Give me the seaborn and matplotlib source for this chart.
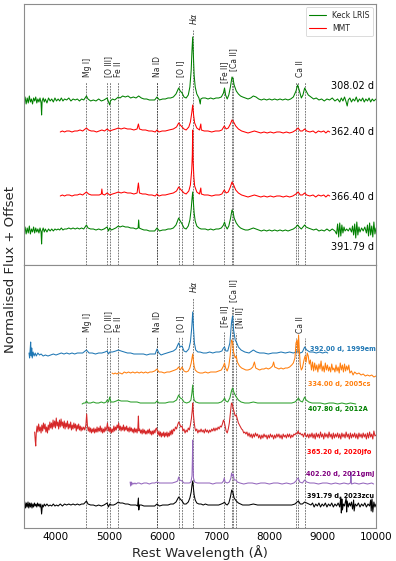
import matplotlib
matplotlib.use("Agg")
import matplotlib.pyplot as plt
import pandas as pd
import seaborn as sns
from matplotlib.lines import Line2D

# ---------------- data (wavelength [A], normalised flux + offset) ----------------
keck_308 = [(3400,163),(3420,168),(3440,161),(3460,167),(3480,162),(3500,169),(3520,163),(3540,166),(3560,161),(3580,167),
    (3600,164),(3620,168),(3640,162),(3660,166),(3680,163),(3700,167),(3720,162),(3730,150),(3740,164),(3760,167),(3780,163),
    (3800,166),(3830,162),(3860,167),(3890,164),(3920,166),(3950,163),(3980,167),(4010,164),(4040,166),(4070,164),(4100,167),
    (4130,164),(4160,166),(4200,165),(4240,167),(4280,164),(4320,166),(4360,165),(4400,166),(4440,164),(4480,166),(4520,165),
    (4571,169),(4600,166),(4650,164),(4700,165),(4750,164),(4800,166),(4850,164),(4900,165),(4959,167),(4985,163),(5007,160),
    (5020,164),(5060,166),(5100,165),(5169,168),(5200,167),(5250,169),(5300,168),(5350,169),(5400,167),(5450,168),(5500,167),
    (5550,169),(5600,167),(5650,166),(5700,166),(5750,165),(5800,165),(5850,165),(5894,168),(5940,165),(6000,166),(6050,166),
    (6100,167),(6150,167),(6200,168),(6250,171),(6300,177),(6330,174),(6364,172),(6400,168),(6440,167),(6480,170),(6510,178),
    (6535,195),(6550,215),(6563,228),(6575,210),(6590,190),(6610,178),(6640,171),(6680,167),(6705,161),(6715,166),(6750,167),
    (6800,167),(6850,166),(6900,167),(6950,166),(7000,167),(7050,167),(7100,168),(7140,172),(7160,177),(7180,170),(7210,166),
    (7240,170),(7270,178),(7300,188),(7320,186),(7340,180),(7380,174),(7420,171),(7460,169),(7500,168),(7550,167),(7600,166),
    (7650,167),(7700,169),(7750,168),(7800,166),(7850,165),(7900,166),(7950,165),(8000,166),(8050,165),(8100,166),(8150,165),
    (8200,166),(8250,165),(8300,166),(8350,165),(8400,166),(8450,168),(8500,174),(8530,180),(8560,175),(8600,167),(8630,170),
    (8662,177),(8690,174),(8730,170),(8780,168),(8830,166),(8880,167),(8930,165),(8980,166),(9030,164),(9080,166),(9130,165),
    (9180,167),(9230,164),(9280,166),(9320,163),(9350,167),(9380,164),(9410,168),(9440,163),(9460,159),(9480,165),(9510,167),
    (9540,163),(9570,166),(9600,164),(9630,168),(9660,163),(9690,166),(9720,164),(9750,167),(9780,163),(9810,166),(9840,164),
    (9870,167),(9900,163),(9930,166),(9960,164),(10000,166)]

mmt_362 = [(4080,133),(4120,134),(4160,133),(4200,134),(4250,134),(4300,133),(4350,134),(4400,134),(4450,135),(4500,134),
    (4571,137),(4610,135),(4660,134),(4710,134),(4760,133),(4810,134),(4860,135),(4910,134),(4959,136),(5007,134),(5060,135),
    (5120,136),(5169,137),(5220,136),(5280,137),(5340,136),(5400,136),(5460,135),(5520,136),(5545,141),(5565,136),(5620,135),
    (5680,135),(5740,134),(5800,134),(5860,133),(5894,135),(5930,133),(5990,134),(6050,134),(6120,135),(6200,136),(6260,138),
    (6300,142),(6330,140),(6364,138),(6400,136),(6440,135),(6490,138),(6520,143),(6545,152),(6563,160),(6580,150),(6600,142),
    (6640,137),(6690,135),(6715,141),(6725,135),(6780,134),(6850,134),(6920,133),(6990,134),(7060,134),(7110,135),(7155,139),
    (7190,136),(7230,137),(7270,141),(7300,145),(7330,143),(7370,139),(7420,136),(7480,134),(7540,133),(7600,132),(7660,133),
    (7720,134),(7780,133),(7840,132),(7900,133),(7960,132),(8020,133),(8080,132),(8140,133),(8200,133),(8260,132),(8320,133),
    (8380,132),(8440,133),(8500,135),(8540,137),(8580,134),(8620,134),(8662,136),(8700,134),(8760,133),(8820,134),(8870,132),
    (8920,134),(8970,133),(9020,134),(9060,132),(9100,134),(9133,133)]

mmt_366 = [(4080,69),(4120,70),(4160,69),(4200,70),(4250,70),(4300,69),(4350,70),(4400,70),(4450,71),(4500,70),(4571,73),
    (4610,71),(4660,70),(4710,70),(4760,70),(4810,70),(4850,71),(4860,76),(4870,71),(4910,70),(4959,72),(5007,70),(5060,71),
    (5120,72),(5169,73),(5220,72),(5280,73),(5340,72),(5400,72),(5460,71),(5520,72),(5545,82),(5565,72),(5620,71),(5680,71),
    (5740,70),(5800,70),(5860,69),(5894,71),(5930,69),(5990,70),(6050,70),(6120,71),(6200,72),(6260,74),(6300,78),(6330,76),
    (6364,74),(6400,72),(6440,71),(6490,74),(6520,80),(6545,95),(6556,110),(6563,135),(6570,105),(6585,88),(6600,79),
    (6640,73),(6690,71),(6715,77),(6725,71),(6780,70),(6850,70),(6920,69),(6990,70),(7060,70),(7110,71),(7155,75),(7190,72),
    (7230,73),(7270,78),(7300,83),(7330,80),(7370,75),(7420,72),(7480,70),(7540,69),(7600,68),(7660,69),(7720,70),(7780,69),
    (7840,68),(7900,69),(7960,68),(8020,69),(8080,68),(8140,69),(8200,69),(8260,68),(8320,69),(8380,68),(8440,69),(8500,71),
    (8540,73),(8580,70),(8620,70),(8662,72),(8700,70),(8760,69),(8820,70),(8870,68),(8920,70),(8970,69),(9020,70),(9060,68),
    (9100,70),(9133,69)]

keck_391 = [(3400,33),(3420,38),(3440,31),(3460,37),(3480,32),(3500,39),(3520,31),(3540,36),(3560,33),(3580,38),(3600,32),
    (3620,37),(3640,33),(3660,36),(3680,32),(3700,37),(3720,33),(3730,21),(3740,34),(3760,37),(3780,33),(3800,36),(3830,33),
    (3860,36),(3890,34),(3920,36),(3950,34),(3980,36),(4010,35),(4040,36),(4070,35),(4100,37),(4130,35),(4160,36),(4200,36),
    (4240,37),(4280,36),(4320,37),(4360,36),(4400,37),(4440,36),(4480,37),(4520,36),(4571,40),(4600,37),(4650,36),(4700,36),
    (4750,35),(4800,36),(4850,35),(4900,36),(4959,38),(4985,34),(5007,37),(5040,35),(5080,36),(5120,37),(5169,39),(5200,38),
    (5250,39),(5300,38),(5350,38),(5400,37),(5450,37),(5500,36),(5540,37),(5550,45),(5560,37),(5600,36),(5650,35),(5700,35),
    (5750,34),(5800,34),(5850,34),(5894,37),(5940,34),(6000,35),(6050,35),(6100,36),(6150,36),(6200,37),(6250,40),(6300,47),
    (6330,44),(6364,41),(6400,37),(6440,36),(6480,39),(6510,45),(6535,56),(6550,66),(6563,73),(6575,63),(6590,52),(6610,44),
    (6640,39),(6680,37),(6720,36),(6760,36),(6800,36),(6850,35),(6900,36),(6950,35),(7000,36),(7050,36),(7100,37),(7140,40),
    (7160,43),(7180,39),(7210,36),(7240,39),(7270,46),(7300,55),(7320,53),(7340,47),(7380,42),(7420,39),(7460,37),(7500,36),
    (7550,35),(7600,35),(7650,36),(7700,37),(7750,36),(7800,35),(7850,34),(7900,35),(7950,34),(8000,35),(8050,34),(8100,35),
    (8150,34),(8200,35),(8250,34),(8300,35),(8350,34),(8400,35),(8450,36),(8500,38),(8530,40),(8560,38),(8600,36),(8630,38),
    (8662,40),(8690,38),(8730,37),(8780,36),(8830,35),(8880,36),(8930,34),(8980,35),(9030,34),(9080,36),(9130,34),(9180,36),
    (9230,34),(9260,31),(9280,41),(9300,28),(9320,42),(9340,29),(9360,40),(9380,32),(9400,38),(9420,34),(9450,36),(9480,34),
    (9510,37),(9540,33),(9560,39),(9580,30),(9600,41),(9620,27),(9640,43),(9660,30),(9680,38),(9700,33),(9730,37),(9760,34),
    (9790,38),(9820,32),(9840,40),(9860,29),(9880,42),(9900,30),(9920,39),(9940,28),(9960,43),(9980,31),(10000,37)]

sn1999em = [(3494,175),(3505,170),(3515,178),(3525,186),(3535,172),(3545,180),(3555,170),(3570,176),(3590,172),(3610,175),
    (3630,172),(3660,175),(3690,173),(3720,174),(3760,172),(3800,173),(3850,172),(3900,173),(3950,174),(4000,173),(4050,174),
    (4100,175),(4150,174),(4200,175),(4250,174),(4300,175),(4350,174),(4400,175),(4450,175),(4500,175),(4571,178),(4620,175),
    (4680,175),(4740,174),(4800,175),(4860,175),(4920,176),(4959,177),(4985,174),(5007,176),(5060,176),(5120,177),(5169,178),
    (5220,177),(5280,176),(5340,175),(5400,175),(5460,174),(5520,174),(5580,174),(5640,174),(5700,173),(5760,174),(5820,174),
    (5860,174),(5894,179),(5930,175),(5970,173),(6020,174),(6080,175),(6140,176),(6200,177),(6250,179),(6300,185),(6330,181),
    (6364,182),(6400,177),(6440,176),(6490,179),(6520,186),(6545,200),(6563,216),(6578,200),(6595,185),(6620,178),(6660,176),
    (6700,176),(6760,175),(6820,175),(6880,176),(6940,175),(7000,176),(7060,176),(7110,177),(7140,180),(7160,181),(7185,177),
    (7220,177),(7260,185),(7290,205),(7310,212),(7330,198),(7360,188),(7390,185),(7420,181),(7470,178),(7540,176),(7620,175),
    (7700,178),(7760,176),(7820,175),(7900,175),(7980,174),(8060,175),(8140,175),(8220,176),(8300,175),(8380,176),(8450,175),
    (8500,176),(8540,177),(8580,175),(8620,176),(8662,181),(8700,178),(8760,176),(8820,176),(8880,175),(8940,176),(9000,175),
    (9060,176),(9095,175)]

sn2005cs = [(5050,155),(5080,154),(5110,155),(5140,154),(5169,155),(5200,155),(5240,154),(5280,156),(5320,155),(5360,156),
    (5400,155),(5440,156),(5480,155),(5520,156),(5560,155),(5600,156),(5640,155),(5680,156),(5720,155),(5760,156),(5800,156),
    (5850,157),(5894,159),(5930,156),(5980,156),(6030,155),(6080,156),(6130,156),(6180,157),(6230,158),(6270,159),(6300,161),
    (6330,158),(6364,161),(6400,157),(6440,156),(6480,157),(6510,160),(6535,165),(6550,170),(6563,174),(6575,168),(6590,162),
    (6610,158),(6650,156),(6700,155),(6750,155),(6800,156),(6850,155),(6900,156),(6950,156),(7000,156),(7050,157),(7100,158),
    (7140,162),(7160,165),(7180,160),(7210,157),(7240,162),(7265,172),(7290,188),(7310,186),(7330,176),(7360,170),(7380,172),
    (7400,166),(7440,162),(7480,160),(7520,159),(7560,158),(7600,158),(7650,159),(7690,161),(7720,166),(7745,160),(7780,159),
    (7820,158),(7860,159),(7900,159),(7940,160),(7980,159),(8020,160),(8060,162),(8080,166),(8100,161),(8140,160),(8180,159),
    (8220,160),(8260,159),(8300,160),(8340,160),(8380,161),(8420,163),(8450,165),(8480,170),(8500,185),(8520,188),(8535,175),
    (8548,193),(8560,180),(8580,163),(8600,158),(8620,160),(8650,168),(8670,172),(8690,166),(8710,175),(8730,172),(8750,164),
    (8770,168),(8790,158),(8810,166),(8830,157),(8850,165),(8870,158),(8890,163),(8910,156),(8930,164),(8950,159),(8970,167),
    (8990,157),(9010,162),(9030,156),(9050,165),(9070,158),(9090,163),(9110,157),(9130,161),(9150,156),(9170,164),(9190,158),
    (9210,160),(9230,156),(9250,163),(9270,157),(9290,161),(9310,155),(9330,165),(9350,158),(9370,163),(9390,156),(9410,164),
    (9430,157),(9450,162),(9470,158),(9490,163),(9510,155),(9540,157),(9570,153),(9600,156),(9640,154),(9680,155),(9720,153),
    (9760,154),(9800,152),(9840,153),(9880,152),(9920,153),(9960,151),(10000,152)]

sn2012A = [(4490,124),(4520,125),(4550,125),(4571,127),(4600,125),(4650,125),(4700,126),(4750,125),(4800,125),(4850,126),
    (4900,125),(4940,126),(4959,128),(4985,126),(5007,131),(5030,126),(5080,126),(5130,127),(5169,128),(5220,127),(5280,127),
    (5340,127),(5400,126),(5460,126),(5520,126),(5580,125),(5640,125),(5700,125),(5760,125),(5820,125),(5860,125),(5894,127),
    (5930,125),(5990,125),(6050,125),(6120,126),(6200,126),(6260,128),(6300,133),(6330,130),(6364,129),(6400,126),(6450,125),
    (6500,126),(6530,128),(6548,135),(6563,143),(6575,133),(6590,128),(6620,126),(6680,125),(6740,125),(6800,125),(6860,125),
    (6920,125),(6980,125),(7040,125),(7100,126),(7140,128),(7160,130),(7185,127),(7220,126),(7260,130),(7290,137),(7310,140),
    (7340,135),(7380,131),(7420,128),(7470,126),(7540,125),(7620,125),(7700,126),(7780,125),(7860,125),(7940,125),(8020,125),
    (8100,125),(8180,125),(8260,125),(8340,125),(8420,125),(8480,126),(8520,128),(8545,130),(8580,127),(8620,126),(8662,131),
    (8690,128),(8740,126),(8800,125),(8880,125),(8960,125),(9040,124),(9120,125),(9200,125),(9280,124),(9360,125),(9440,124),
    (9520,125),(9620,124)]

sn2020jfo = [(3600,96),(3610,88),(3620,82),(3630,95),(3645,102),(3660,96),(3675,104),(3690,97),(3705,101),(3720,95),
    (3735,103),(3750,97),(3765,105),(3780,99),(3795,104),(3810,96),(3825,101),(3840,95),(3855,103),(3870,98),(3885,106),
    (3900,100),(3915,105),(3930,99),(3945,108),(3960,101),(3975,107),(3990,100),(4005,110),(4020,102),(4035,106),(4050,99),
    (4065,108),(4080,101),(4095,109),(4110,102),(4125,106),(4140,100),(4155,107),(4170,99),(4185,105),(4200,101),(4215,107),
    (4230,99),(4245,104),(4260,100),(4275,106),(4290,98),(4305,103),(4320,99),(4335,105),(4350,100),(4365,104),(4380,97),
    (4395,103),(4410,99),(4425,104),(4440,98),(4455,102),(4470,97),(4485,101),(4500,98),(4520,101),(4540,98),(4560,103),
    (4575,114),(4590,102),(4605,97),(4620,101),(4635,96),(4650,100),(4665,95),(4680,99),(4695,96),(4710,100),(4725,95),
    (4740,99),(4755,96),(4770,101),(4785,96),(4800,100),(4815,97),(4830,102),(4845,96),(4860,100),(4875,95),(4890,99),
    (4905,96),(4920,101),(4935,97),(4950,100),(4965,105),(4980,97),(4995,101),(5010,96),(5025,100),(5040,95),(5055,99),
    (5070,96),(5085,102),(5100,97),(5115,101),(5130,98),(5145,103),(5160,100),(5175,105),(5190,98),(5205,102),(5220,97),
    (5235,101),(5250,98),(5265,103),(5280,97),(5295,101),(5310,98),(5325,102),(5340,97),(5355,100),(5370,96),(5385,101),
    (5400,97),(5415,100),(5430,96),(5445,99),(5460,95),(5475,100),(5490,96),(5505,99),(5520,95),(5535,100),(5545,112),
    (5555,97),(5570,99),(5585,95),(5600,98),(5615,94),(5630,99),(5645,95),(5660,98),(5675,94),(5690,97),(5705,94),(5720,98),
    (5735,95),(5750,99),(5765,94),(5780,97),(5795,93),(5810,97),(5825,94),(5840,98),(5855,95),(5870,99),(5885,100),(5900,96),
    (5915,93),(5930,97),(5945,92),(5960,96),(5975,91),(5990,95),(6005,92),(6020,96),(6035,91),(6050,95),(6065,92),(6080,96),
    (6095,91),(6110,95),(6125,92),(6140,97),(6155,93),(6170,98),(6185,94),(6200,99),(6220,97),(6240,101),(6260,99),(6280,103),
    (6300,106),(6320,104),(6340,101),(6364,102),(6380,97),(6400,99),(6420,95),(6440,98),(6460,96),(6480,100),(6500,98),
    (6520,103),(6540,110),(6555,118),(6563,125),(6575,115),(6590,106),(6605,100),(6620,97),(6640,99),(6660,95),(6680,98),
    (6700,96),(6720,99),(6740,96),(6760,98),(6780,95),(6800,99),(6820,96),(6840,98),(6860,95),(6880,98),(6900,96),(6920,99),
    (6940,97),(6960,100),(6980,97),(7000,100),(7020,98),(7040,101),(7060,99),(7080,102),(7100,101),(7120,104),(7140,108),
    (7155,106),(7170,102),(7190,97),(7210,95),(7230,99),(7250,105),(7270,115),(7290,125),(7305,124),(7320,120),(7340,116),
    (7360,112),(7380,113),(7400,109),(7420,105),(7440,103),(7460,101),(7480,99),(7500,98),(7520,95),(7540,96),(7560,94),
    (7580,96),(7600,92),(7620,95),(7640,91),(7660,94),(7680,90),(7700,94),(7720,91),(7740,95),(7760,92),(7780,94),(7800,90),
    (7820,93),(7840,89),(7860,93),(7880,90),(7900,94),(7920,91),(7940,93),(7960,89),(7980,93),(8000,90),(8020,94),(8040,91),
    (8060,93),(8080,89),(8100,93),(8120,90),(8140,94),(8160,91),(8180,94),(8200,90),(8220,93),(8240,89),(8260,94),(8280,91),
    (8300,93),(8320,90),(8340,94),(8360,91),(8380,94),(8400,90),(8420,93),(8440,91),(8460,94),(8480,93),(8500,95),(8520,94),
    (8540,97),(8560,94),(8580,95),(8600,93),(8620,94),(8640,91),(8662,95),(8680,93),(8700,91),(8720,94),(8740,90),(8760,94),
    (8780,91),(8800,95),(8820,90),(8840,94),(8860,89),(8880,95),(8900,91),(8920,94),(8940,90),(8960,96),(8980,91),(9000,94),
    (9020,89),(9040,95),(9060,91),(9080,94),(9100,90),(9120,96),(9140,91),(9160,94),(9180,89),(9200,95),(9220,90),(9240,94),
    (9260,91),(9280,95),(9300,90),(9320,94),(9340,89),(9360,95),(9380,91),(9400,94),(9420,90),(9440,96),(9460,91),(9480,94),
    (9500,89),(9520,95),(9540,90),(9560,94),(9580,91),(9600,95),(9620,90),(9640,94),(9660,89),(9680,95),(9700,91),(9720,94),
    (9740,90),(9760,95),(9780,91),(9800,94),(9820,89),(9840,95),(9860,90),(9880,96),(9900,91),(9920,94),(9940,89),(9960,97),
    (9980,92),(10000,93)]

sn2021gmj = [(5390,46),(5400,42),(5410,46),(5420,43),(5440,45),(5460,44),(5480,45),(5500,44),(5530,45),(5560,45),(5600,44),
    (5650,45),(5700,45),(5750,44),(5800,45),(5850,45),(5894,46),(5940,45),(6000,45),(6060,45),(6120,45),(6180,45),(6240,46),
    (6280,47),(6300,51),(6320,48),(6364,47),(6400,45),(6450,45),(6500,45),(6530,46),(6550,52),(6558,70),(6563,88),(6568,68),
    (6578,50),(6600,46),(6650,45),(6700,45),(6760,45),(6820,45),(6880,45),(6940,44),(7000,45),(7060,45),(7110,45),(7140,47),
    (7155,50),(7170,46),(7210,45),(7250,46),(7280,50),(7292,55),(7305,52),(7324,54),(7340,48),(7378,48),(7400,46),(7450,45),
    (7520,44),(7600,45),(7680,45),(7760,44),(7840,45),(7920,45),(8000,44),(8080,45),(8160,45),(8240,44),(8320,45),(8400,44),
    (8460,45),(8500,47),(8520,49),(8542,50),(8570,46),(8620,45),(8662,48),(8700,46),(8760,45),(8840,45),(8920,44),(9000,45),
    (9080,45),(9160,44),(9240,45),(9320,44),(9400,45),(9480,44),(9520,45),(9530,56),(9540,44),(9600,45),(9680,44),(9760,45),
    (9840,44),(9920,45),(9955,44)]

sn2023zcu = [(3400,22),(3415,26),(3430,20),(3445,25),(3460,21),(3475,26),(3490,20),(3505,25),(3520,21),(3535,25),(3550,20),
    (3565,24),(3580,21),(3595,25),(3610,22),(3625,24),(3640,21),(3655,25),(3670,22),(3685,24),(3700,21),(3715,24),(3730,14),
    (3745,23),(3760,21),(3780,24),(3800,22),(3830,24),(3860,22),(3890,23),(3920,22),(3950,24),(3980,22),(4010,23),(4040,22),
    (4080,24),(4120,22),(4160,24),(4200,23),(4240,24),(4280,23),(4320,24),(4360,23),(4400,24),(4440,23),(4480,24),(4520,24),
    (4571,27),(4600,24),(4650,23),(4700,23),(4750,22),(4800,23),(4850,22),(4900,23),(4959,25),(4985,21),(5007,24),(5040,23),
    (5080,23),(5120,24),(5169,26),(5200,25),(5250,25),(5300,24),(5350,24),(5400,23),(5450,23),(5500,23),(5530,22),(5545,30),
    (5552,18),(5565,23),(5600,23),(5650,22),(5700,22),(5750,22),(5800,22),(5850,22),(5894,24),(5940,22),(6000,23),(6050,23),
    (6100,23),(6150,24),(6200,24),(6250,26),(6300,31),(6330,29),(6364,27),(6400,24),(6440,24),(6480,26),(6510,30),(6535,36),
    (6550,43),(6563,47),(6575,41),(6590,33),(6610,28),(6640,25),(6680,24),(6720,24),(6760,23),(6800,24),(6850,23),(6900,23),
    (6950,23),(7000,23),(7050,23),(7100,24),(7140,25),(7160,26),(7180,24),(7210,23),(7240,25),(7270,31),(7295,38),(7315,36),
    (7340,30),(7380,27),(7420,25),(7460,24),(7500,23),(7560,23),(7620,23),(7700,24),(7780,23),(7860,23),(7940,23),(8020,23),
    (8100,23),(8180,23),(8260,23),(8340,23),(8420,23),(8480,24),(8520,26),(8545,27),(8580,24),(8620,24),(8662,26),(8700,25),
    (8740,24),(8780,23),(8810,25),(8840,21),(8870,24),(8900,22),(8930,25),(8960,21),(8990,24),(9020,22),(9050,25),(9080,21),
    (9110,24),(9140,22),(9170,25),(9200,21),(9230,24),(9260,22),(9290,25),(9320,21),(9340,31),(9350,15),(9360,29),(9370,18),
    (9390,24),(9410,22),(9440,30),(9450,16),(9460,27),(9480,21),(9500,25),(9520,22),(9540,26),(9560,19),(9580,28),(9590,17),
    (9610,24),(9640,22),(9670,25),(9700,21),(9730,24),(9760,22),(9790,25),(9820,21),(9850,24),(9880,22),(9900,28),(9910,17),
    (9925,29),(9940,16),(9960,26),(9980,21),(10000,24)]

top_epochs = ["308.02 d", "362.40 d", "366.40 d", "391.79 d"]
bottom_labels = ["392.00 d, 1999em", "334.00 d, 2005cs", "407.80 d, 2012A",
                 "365.20 d, 2020jfo", "402.20 d, 2021gmj", "391.79 d, 2023zcu"]

line_names = ["Mg I]", "[O III]", "Fe II", "Na ID", "[O I]", r"$H\alpha$",
              "[Fe II]", "[Ca II]", "[Ni II]", "Ca II"]
line_waves = [[4571], [4959, 5007], [5169], [5890, 5896], [6300, 6364], [6563],
              [7155], [7291, 7324], [7378], [8498, 8542, 8662]]

xticks = [4000, 5000, 6000, 7000, 8000, 9000, 10000]

# ---------------- style ----------------
sns.set_theme(style="white")
plt.rcParams['font.family'] = ['DejaVu Sans']
plt.rcParams['axes.edgecolor'] = '0.55'
plt.rcParams['axes.linewidth'] = 0.8

fig, (ax1, ax2) = plt.subplots(2, 1, figsize=(3.96, 5.61), dpi=100, sharex=True,
                               gridspec_kw=dict(height_ratios=[261, 263]))
fig.subplots_adjust(left=0.0606, right=0.9495, top=0.9929, bottom=0.0588, hspace=0)


def draw(ax, pts, color, z=2):
    df = pd.DataFrame(pts, columns=["wave", "flux"])
    sns.lineplot(data=df, x="wave", y="flux", ax=ax, color=color, lw=0.75,
                 estimator=None, sort=False, zorder=z)


VL = dict(colors="0.15", linestyles=(0, (2.5, 1.5)), lw=0.5, alpha=0.85, zorder=1)

# ---- top panel ----
top_specs = [(keck_308, "green"), (mmt_362, "red"), (mmt_366, "red"), (keck_391, "green")]
for pts, c in top_specs:
    draw(ax1, pts, c)

top_label_pos = [(9152, 179), (9152, 133), (9152, 68), (9152, 18)]
for txt, (x, y) in zip(top_epochs, top_label_pos):
    ax1.text(x, y, txt, fontsize=7, va="center", ha="left", color="black")

top_lab_x = [4590, 4985, 5173, 5894, 6332, 6571, 7162, 7338, None, 8588]
top_lab_y = [188, 188, 188, 188, 188, 240, 182, 194, None, 188]
for name, waves, lx, ly in zip(line_names, line_waves, top_lab_x, top_lab_y):
    if lx is None:
        continue
    ax1.vlines(waves, 0, ly - 5, **VL)
    ax1.text(lx, ly, name, rotation=90, fontsize=5.5, ha="center", va="bottom")

handles = [Line2D([0], [0], color="green", lw=0.8), Line2D([0], [0], color="red", lw=0.8)]
leg = ax1.legend(handles, ["Keck LRIS", "MMT"], loc="upper right", fontsize=5.6,
                 frameon=True, handlelength=2.1, borderpad=0.45, labelspacing=0.55,
                 handletextpad=0.8, borderaxespad=0.4, fancybox=True)
leg.get_frame().set_edgecolor("0.8")
leg.get_frame().set_linewidth(0.6)

# ---- bottom panel ----
bottom_specs = [(sn1999em, "#1f77b4", "#1f77b4"), (sn2005cs, "#ff7f0e", "#ff7f0e"),
                (sn2012A, "#2ca02c", "green"), (sn2020jfo, "#d62728", "red"),
                (sn2021gmj, "#9467bd", "purple"), (sn2023zcu, "black", "black")]
bottom_label_pos = [(8763, 179), (8720, 144), (8720, 119), (8700, 76), (8682, 54), (8700, 32)]
for (pts, c, tc), txt, (x, y) in zip(bottom_specs, bottom_labels, bottom_label_pos):
    draw(ax2, pts, c)
    ax2.text(x, y, txt, fontsize=4.7, fontweight="bold", color=tc, va="center", ha="left")

bot_lab_x = [4590, 4985, 5173, 5894, 6332, 6571, 7162, 7322, 7446, 8588]
bot_lab_y = [196, 196, 196, 196, 196, 235, 201, 226, 200, 195]
for name, waves, lx, ly in zip(line_names, line_waves, bot_lab_x, bot_lab_y):
    ax2.vlines(waves, 0, ly - 5, **VL)
    ax2.text(lx, ly, name, rotation=90, fontsize=5.5, ha="center", va="bottom")

for ax, top in ((ax1, 261), (ax2, 263)):
    ax.set_xlim(3400, 10000)
    ax.set_ylim(0, top)
    ax.set_yticks([])
    ax.set_ylabel("")
    ax.set_xlabel("")
    ax.set_xticks(xticks)
    ax.tick_params(axis="x", direction="in", length=3, width=0.8, colors="black",
                   labelsize=7.5, pad=3)
    for s in ax.spines.values():
        s.set_color("0.55")

ax1.tick_params(axis="x", labelbottom=False)
ax2.set_xlabel("Rest Wavelength (\u00c5)", fontsize=9.5, labelpad=2)
fig.text(0.027, 0.52, "Normalised Flux + Offset", rotation=90, fontsize=9.5,
         ha="center", va="center")

fig.savefig("out.png", dpi=100)
